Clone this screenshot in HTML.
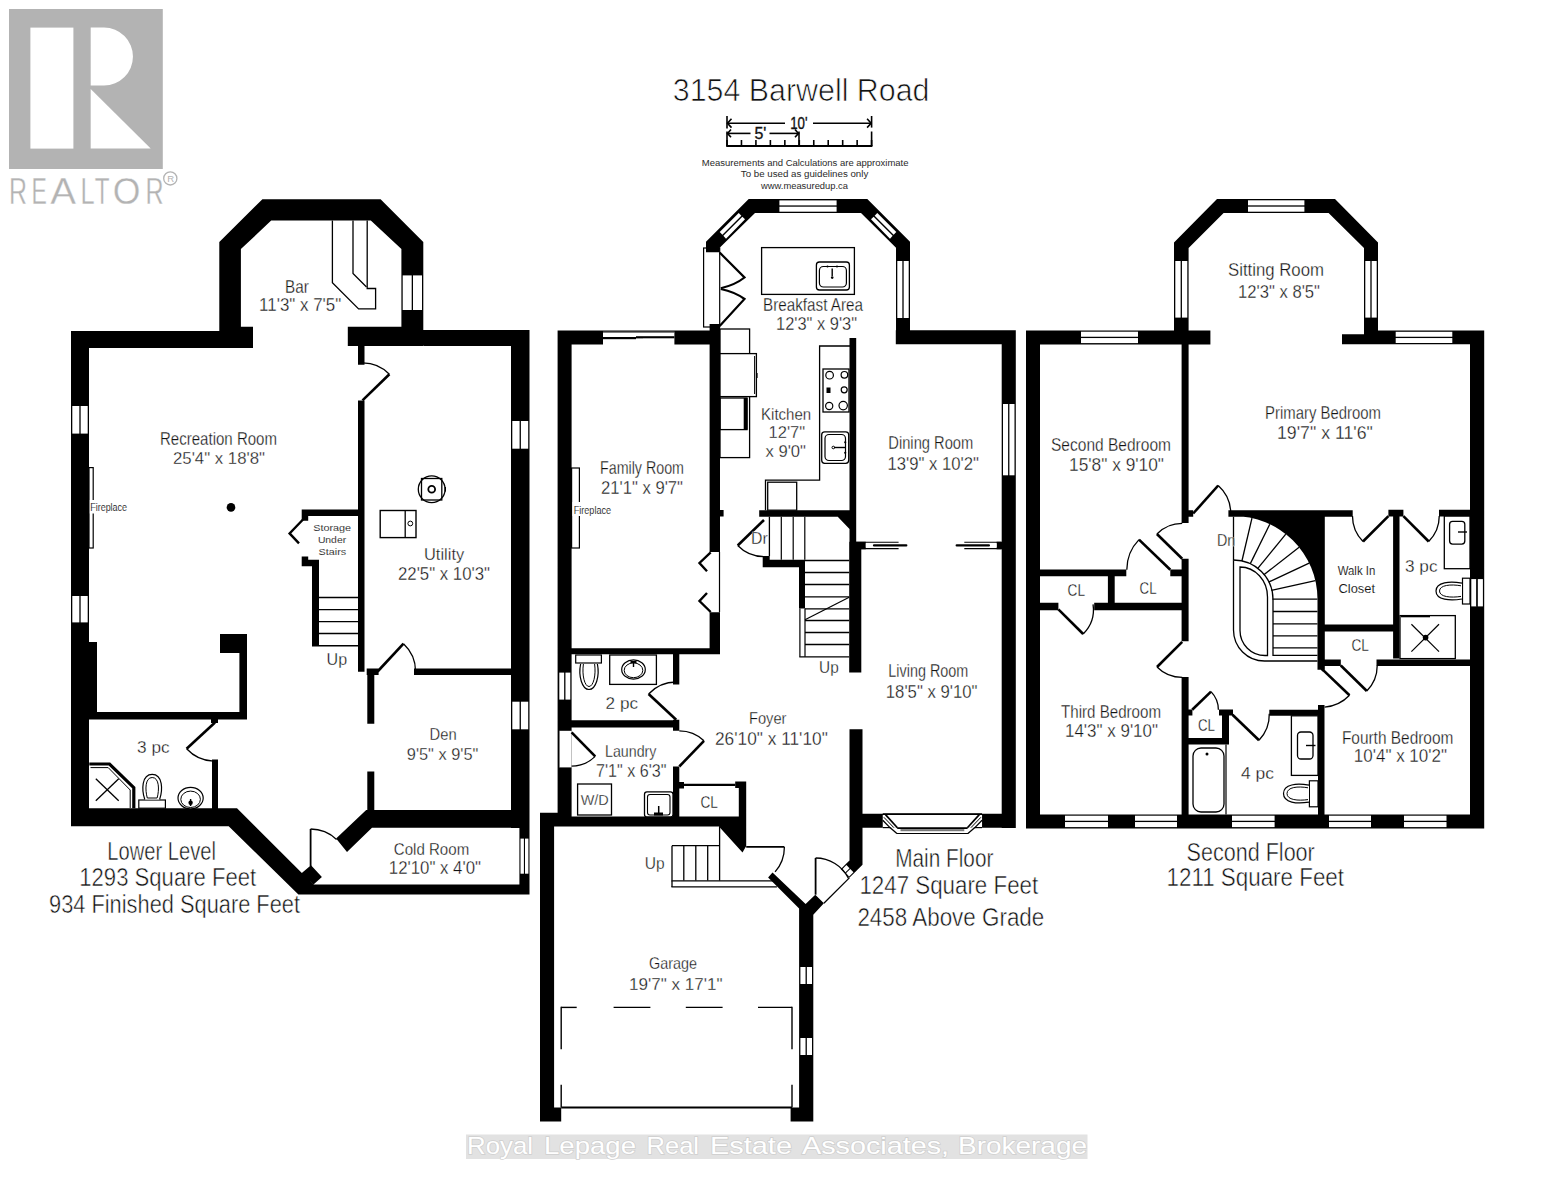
<!DOCTYPE html>
<html><head><meta charset="utf-8"><title>3154 Barwell Road</title>
<style>html,body{margin:0;padding:0;background:#fff;overflow:hidden;width:1553px;height:1200px;}svg{display:block;}</style>
</head><body>
<svg width="1553" height="1200" viewBox="0 0 1553 1200" font-family="Liberation Sans, sans-serif">
<rect width="1553" height="1200" fill="#fff"/>
<rect x="9" y="9" width="153.8" height="160" fill="#b3b3b3"/>
<rect x="30.4" y="27.6" width="43" height="121" fill="#fff"/>
<path d="M90.7,27.6 H104 A28.95,28.95 0 0 1 104,85.5 H90.7 Z" fill="#fff"/>
<polygon points="90.7,88.9 150.7,148.6 90.7,148.6" fill="#fff"/>
<text x="9" y="203.8" font-size="36.5" textLength="18" lengthAdjust="spacingAndGlyphs" fill="#b3b3b3" font-family="Liberation Sans" stroke="#fff" stroke-width="0.35">R</text>
<text x="31.6" y="203.8" font-size="36.5" textLength="15.4" lengthAdjust="spacingAndGlyphs" fill="#b3b3b3" font-family="Liberation Sans" stroke="#fff" stroke-width="0.35">E</text>
<text x="50.2" y="203.8" font-size="36.5" textLength="25.8" lengthAdjust="spacingAndGlyphs" fill="#b3b3b3" font-family="Liberation Sans" stroke="#fff" stroke-width="0.35">A</text>
<text x="80.5" y="203.8" font-size="36.5" textLength="14.1" lengthAdjust="spacingAndGlyphs" fill="#b3b3b3" font-family="Liberation Sans" stroke="#fff" stroke-width="0.35">L</text>
<text x="94.7" y="203.8" font-size="36.5" textLength="14.8" lengthAdjust="spacingAndGlyphs" fill="#b3b3b3" font-family="Liberation Sans" stroke="#fff" stroke-width="0.35">T</text>
<text x="112.7" y="203.8" font-size="36.5" textLength="27.7" lengthAdjust="spacingAndGlyphs" fill="#b3b3b3" font-family="Liberation Sans" stroke="#fff" stroke-width="0.35">O</text>
<text x="145.5" y="203.8" font-size="36.5" textLength="18.1" lengthAdjust="spacingAndGlyphs" fill="#b3b3b3" font-family="Liberation Sans" stroke="#fff" stroke-width="0.35">R</text>
<circle cx="170.3" cy="178.4" r="6.6" fill="none" stroke="#b3b3b3" stroke-width="1.3"/>
<text x="167.2" y="181.9" font-size="9.6" fill="#b3b3b3" font-family="Liberation Sans">R</text>
<text x="672.8" y="101.1" font-size="30.6" textLength="256.7" lengthAdjust="spacingAndGlyphs" fill="#111" font-family="Liberation Sans" stroke="#fff" stroke-width="0.7">3154 Barwell Road</text>
<line x1="727" y1="116" x2="727" y2="128.5" stroke="#000" stroke-width="1.6" stroke-linecap="butt"/>
<line x1="727" y1="131.5" x2="727" y2="146" stroke="#000" stroke-width="1.6" stroke-linecap="butt"/>
<line x1="871.6" y1="116" x2="871.6" y2="127.6" stroke="#000" stroke-width="1.6" stroke-linecap="butt"/>
<line x1="871.6" y1="131.5" x2="871.6" y2="146" stroke="#000" stroke-width="1.6" stroke-linecap="butt"/>
<line x1="799" y1="131.5" x2="799" y2="146" stroke="#000" stroke-width="1.6" stroke-linecap="butt"/>
<line x1="726.2" y1="146" x2="872.4" y2="146" stroke="#000" stroke-width="2" stroke-linecap="butt"/>
<line x1="727" y1="140" x2="727" y2="146" stroke="#000" stroke-width="1.6" stroke-linecap="butt"/>
<line x1="741.46" y1="140" x2="741.46" y2="146" stroke="#000" stroke-width="1.6" stroke-linecap="butt"/>
<line x1="755.92" y1="140" x2="755.92" y2="146" stroke="#000" stroke-width="1.6" stroke-linecap="butt"/>
<line x1="770.38" y1="140" x2="770.38" y2="146" stroke="#000" stroke-width="1.6" stroke-linecap="butt"/>
<line x1="784.84" y1="140" x2="784.84" y2="146" stroke="#000" stroke-width="1.6" stroke-linecap="butt"/>
<line x1="799.3" y1="140" x2="799.3" y2="146" stroke="#000" stroke-width="1.6" stroke-linecap="butt"/>
<line x1="813.76" y1="140" x2="813.76" y2="146" stroke="#000" stroke-width="1.6" stroke-linecap="butt"/>
<line x1="828.22" y1="140" x2="828.22" y2="146" stroke="#000" stroke-width="1.6" stroke-linecap="butt"/>
<line x1="842.68" y1="140" x2="842.68" y2="146" stroke="#000" stroke-width="1.6" stroke-linecap="butt"/>
<line x1="857.14" y1="140" x2="857.14" y2="146" stroke="#000" stroke-width="1.6" stroke-linecap="butt"/>
<line x1="871.6" y1="140" x2="871.6" y2="146" stroke="#000" stroke-width="1.6" stroke-linecap="butt"/>
<line x1="727" y1="123.2" x2="785" y2="123.2" stroke="#000" stroke-width="1.6" stroke-linecap="butt"/>
<line x1="813" y1="123.2" x2="871.6" y2="123.2" stroke="#000" stroke-width="1.6" stroke-linecap="butt"/>
<polyline points="731.5,118.8 727.5,123.2 731.5,127.6" fill="none" stroke="#000" stroke-width="1.6" stroke-linejoin="miter"/>
<polyline points="867.1,118.8 871.1,123.2 867.1,127.6" fill="none" stroke="#000" stroke-width="1.6" stroke-linejoin="miter"/>
<line x1="727" y1="133.4" x2="750.5" y2="133.4" stroke="#000" stroke-width="1.6" stroke-linecap="butt"/>
<line x1="769.5" y1="133.4" x2="799" y2="133.4" stroke="#000" stroke-width="1.6" stroke-linecap="butt"/>
<polyline points="731,129.5 727.5,133.4 731,137.3" fill="none" stroke="#000" stroke-width="1.6" stroke-linejoin="miter"/>
<polyline points="795,129.5 798.5,133.4 795,137.3" fill="none" stroke="#000" stroke-width="1.6" stroke-linejoin="miter"/>
<text x="790.2" y="129.3" font-size="16.5" textLength="17.3" lengthAdjust="spacingAndGlyphs" fill="#111" font-family="Liberation Sans" stroke="#111" stroke-width="0.35">10'</text>
<text x="754.4" y="139" font-size="16.5" textLength="11.9" lengthAdjust="spacingAndGlyphs" fill="#111" font-family="Liberation Sans" stroke="#111" stroke-width="0.35">5'</text>
<text x="701.8" y="165.6" font-size="9.6" textLength="206.7" lengthAdjust="spacingAndGlyphs" fill="#2a2a2a" font-family="Liberation Sans">Measurements and Calculations are approximate</text>
<text x="740.8" y="177.2" font-size="9.6" textLength="127.5" lengthAdjust="spacingAndGlyphs" fill="#2a2a2a" font-family="Liberation Sans">To be used as guidelines only</text>
<text x="761" y="189.2" font-size="9.6" textLength="87" lengthAdjust="spacingAndGlyphs" fill="#2a2a2a" font-family="Liberation Sans">www.measuredup.ca</text>
<path d="M219.3,331L219.3,241.9L262.4,199.2L380.6,199.2L423.3,241.9L423.3,331L401.4,331L401.4,249.1L370.8,220.6L271.2,220.6L240.9,249.1L240.9,331ZM71,331H253V348H71ZM220,326.8H253V331H220ZM347.8,326.8H423.3V345.9H347.8ZM423.3,330.1H529.5V345.9H423.3ZM71,331H89V826.2H71ZM89,642H97V712H89ZM511,330.1H529.5V828H511ZM519.4,828H529.5V894.6H519.4ZM358,345H364.5V364.7H358ZM358,400.4H364.5V671.8H358ZM301.7,509.4H358V516H301.7ZM301.7,509.4H308.2V520.7H301.7ZM301.7,556.4H308.2V566.2H301.7ZM301.7,559.7H318.6V566.2H301.7ZM312,559.7H319V645.8H312ZM366.7,668.6H378.6V675.1H366.7ZM414,668.6H511V675.1H414ZM367.3,668.6H374.3V723.8H367.3ZM367.3,771.5H374.3V812H367.3ZM366.2,810.1H529.5V827.7H366.2ZM366.2,810.1L372,810.1L372,827.7L347,852L336.1,838.6ZM71,808.2L237,808.2L313.4,884.6L529.5,884.6L529.5,894.6L298.4,894.6L228.7,826.2L71,826.2ZM301.8,872.9L311,865.3L321.9,877.1L313.5,884.6ZM89,712H247V719.4H89ZM239.4,634H247V719.4H239.4ZM220,634H247V653H220ZM211,719.4H218V723H211ZM212,759.4H218V808.2H212ZM706,252.3L706,241.7L748.7,199.1L867.3,199.1L910,241.7L910,344.2L896,344.2L896,247.7L861,213L755,213L719.7,247.7L719.7,252.3ZM895.8,330.3H1015.8V344.2H895.8ZM1001.7,330.3H1015.8V828H1001.7ZM557.6,330.4H720V344.4H557.6ZM557.6,330.4H571.6V826H557.6ZM709.6,324H720V552H709.6ZM709.6,612.3H720V654.3H709.6ZM571.5,648.3H720V654.3H571.5ZM720,510H723.6V516.5H720ZM706,244H719.7V252.3H706ZM710,324H720V330H710ZM849.5,338H856.2V541.7H849.5ZM849.2,541.7H861.3V672.5H849.2ZM759.2,510.2H849.5V516.7H759.2ZM837.5,516.5L849.5,516.5L849.5,529ZM762.7,556H769.7V567.2H762.7ZM762.7,559.7H805V567.2H762.7ZM799,559.7H805V608.5H799ZM856,541.7H865.8V549.2H856ZM996.6,541.7H1001.7V549.2H996.6ZM673,654H679.3V684.4H673ZM673,719.8H679.3V730.8H673ZM571.5,720.3H679.3V727.6H571.5ZM673,766.5H679.3V817H673ZM679.3,782H684V788.5H679.3ZM735.2,781.6H746.2V788H735.2ZM738.8,781.6H746.2V846H738.8ZM540,816.4H746.2V826.5H540ZM540,812.7H558V826.5H540ZM718.7,826.3L746.2,826.3L746.2,846L742.5,852.5ZM540,812.7H554.1V1121.5H540ZM540,1107.4H561.2V1121.5H540ZM799.1,905H813.3V1121.5H799.1ZM790.6,1107.4H813.3V1121.5H790.6ZM849.5,729.3H862.5V858H849.5ZM849.5,813.7H1015.8V827.8H849.5ZM849.5,855L862.5,855L862.5,864.7L854.23,872.97L845.6,864.35L849.5,860.45ZM854.23,872.97L849.35,877.85L840.72,869.23L845.6,864.35ZM768.1,877.5L772.5,872.5L805.6,903.9L815.27,894.68L823.89,903.31L813.3,914.7L813.3,1121.5L799.1,1121.5L799.1,908.6ZM1174,331L1174,242.4L1217,199L1335,199L1378,242.4L1378,344.3L1364,344.3L1364,248L1328.6,213L1223.6,213L1188.6,248L1188.6,331ZM1026,330.4H1210.4V344.4H1026ZM1342,334.3H1378V344.3H1342ZM1378,330.5H1484.2V344.3H1378ZM1026,330.4H1040V828.4H1026ZM1470,330.5H1484.2V828.4H1470ZM1026,814.4H1484.2V828.4H1026ZM1181.6,344.4H1188.6V523.1H1181.6ZM1188.6,510.3H1193.2V516.7H1188.6ZM1228.4,510.3H1352.7V516.7H1228.4ZM1233.2,516 H1318 V599.2 H1317.5 A84.3,83.2 0 0 0 1233.2,516 ZM1317.5,510.3H1324.8V669.8H1317.5ZM1388.4,509.8H1403.4V516.4H1388.4ZM1439,509.8H1470V516.4H1439ZM1393.1,509.8H1399.5V658.6H1393.1ZM1324.8,624.6H1393.1V631.4H1324.8ZM1317.5,659.5H1340.8V666H1317.5ZM1376.5,659.5H1470V666H1376.5ZM1318,705H1324.5V814.4H1318ZM1317.5,666L1324.8,666L1324.8,669.5L1322.5,671.5ZM1181.6,558.8H1188.6V641.3H1181.6ZM1040,569.5H1126.3V576.3H1040ZM1170.3,569.5H1182.2V576.3H1170.3ZM1107.9,576.3H1114.7V602.8H1107.9ZM1040,602.8H1058.4V610.2H1040ZM1094.2,602.8H1182.2V610.2H1094.2ZM1181.6,677H1188.6V814.4H1181.6ZM1188.6,709.6H1192.4V715.6H1188.6ZM1219,709.6H1233V715.6H1219ZM1222,709.6H1229V744.4H1222ZM1188.6,738H1229V744.4H1188.6ZM1269.3,709.7H1324.5V715.8H1269.3Z" fill="#000"/>
<rect x="402.7" y="275.4" width="9" height="34.6" fill="#fff"/>
<rect x="413" y="275.4" width="9" height="34.6" fill="#fff"/>
<polyline points="332.4,220.6 332.4,282.7 358.6,308.9 375.6,308.9 375.6,288.5 367.2,288.5 367.2,220.6" fill="none" stroke="#000" stroke-width="1.3" stroke-linejoin="miter"/>
<polyline points="353,220.6 353,273.4 366.5,287" fill="none" stroke="#000" stroke-width="1.3" stroke-linejoin="miter"/>
<rect x="72.3" y="406" width="7.05" height="27.6" fill="#fff"/>
<rect x="80.65" y="406" width="7.05" height="27.6" fill="#fff"/>
<rect x="72.3" y="596" width="7.05" height="26.4" fill="#fff"/>
<rect x="80.65" y="596" width="7.05" height="26.4" fill="#fff"/>
<rect x="512.3" y="421" width="7.3" height="27.7" fill="#fff"/>
<rect x="520.9" y="421" width="7.3" height="27.7" fill="#fff"/>
<rect x="512.3" y="701.7" width="7.3" height="27.6" fill="#fff"/>
<rect x="520.9" y="701.7" width="7.3" height="27.6" fill="#fff"/>
<rect x="520.5" y="838.6" width="3.4" height="35.1" fill="#fff"/>
<rect x="525" y="838.6" width="3.4" height="35.1" fill="#fff"/>
<line x1="362.5" y1="400.4" x2="389.4" y2="374.2" stroke="#000" stroke-width="2.6" stroke-linecap="butt"/>
<path d="M389.4,374.2 A37.55,37.55 0 0 0 361.13,362.87" fill="none" stroke="#000" stroke-width="1.3"/>
<polyline points="303,519.5 289.6,533.4 299,543.4" fill="none" stroke="#000" stroke-width="2.4" stroke-linejoin="miter"/>
<line x1="319" y1="597.5" x2="358" y2="597.5" stroke="#000" stroke-width="1.3" stroke-linecap="butt"/>
<line x1="319" y1="609.7" x2="358" y2="609.7" stroke="#000" stroke-width="1.3" stroke-linecap="butt"/>
<line x1="319" y1="621.6" x2="358" y2="621.6" stroke="#000" stroke-width="1.3" stroke-linecap="butt"/>
<line x1="319" y1="633.5" x2="358" y2="633.5" stroke="#000" stroke-width="1.3" stroke-linecap="butt"/>
<line x1="312" y1="645.8" x2="358" y2="645.8" stroke="#000" stroke-width="1.4" stroke-linecap="butt"/>
<line x1="377.6" y1="671.5" x2="403.5" y2="643.7" stroke="#000" stroke-width="2.6" stroke-linecap="butt"/>
<path d="M403.5,643.7 A38,38 0 0 1 415.6,671.5" fill="none" stroke="#000" stroke-width="1.3"/>
<line x1="310.6" y1="866.5" x2="310.6" y2="829" stroke="#000" stroke-width="1.8" stroke-linecap="butt"/>
<path d="M310.6,829 A37.5,37.5 0 0 1 336.56,839.44" fill="none" stroke="#000" stroke-width="1.3"/>
<line x1="215" y1="722.5" x2="186.6" y2="748.8" stroke="#000" stroke-width="2.6" stroke-linecap="butt"/>
<path d="M186.6,748.8 A38.71,38.71 0 0 0 213.43,761.18" fill="none" stroke="#000" stroke-width="1.3"/>
<polyline points="89.3,764 109.5,764 133.8,787.6 133.8,808.2" fill="none" stroke="#000" stroke-width="3.2" stroke-linejoin="miter"/>
<polyline points="90.5,767.6 108.2,767.6 130.2,790 130.2,808" fill="none" stroke="#000" stroke-width="1" stroke-linejoin="miter"/>
<line x1="95.8" y1="778.8" x2="118.7" y2="800.8" stroke="#000" stroke-width="1.3" stroke-linecap="butt"/>
<line x1="118.7" y1="778.8" x2="95.8" y2="800.8" stroke="#000" stroke-width="1.3" stroke-linecap="butt"/>
<rect x="138.8" y="800" width="26.6" height="8.2" fill="#fff" stroke="#000" stroke-width="1.2"/>
<path d="M144.8,799.5 C141.5,790 141.5,774.3 152.2,774.3 C162.9,774.3 162.9,790 159.6,799.5" fill="#fff" stroke="#000" stroke-width="1.2"/>
<path d="M147.3,798 C145,790 145,777.5 152.2,777.5 C159.4,777.5 159.4,790 157.1,798 Z" fill="none" stroke="#000" stroke-width="1"/>
<ellipse cx="190.6" cy="798.1" rx="12.6" ry="10.8" fill="#fff" stroke="#000" stroke-width="1.2"/>
<ellipse cx="190.6" cy="799.3" rx="9.8" ry="8.2" fill="none" stroke="#000" stroke-width="1.0"/>
<circle cx="190.6" cy="802.8" r="2.2" fill="#000"/>
<line x1="190.6" y1="799" x2="190.6" y2="806" stroke="#000" stroke-width="1.4" stroke-linecap="butt"/>
<circle cx="231" cy="507.4" r="4.3" fill="#000"/>
<rect x="89" y="467.6" width="4.2" height="80.4" fill="#fff" stroke="#000" stroke-width="1.2"/>
<rect x="89.8" y="500" width="38.2" height="13.5" fill="#fff"/>
<circle cx="431.7" cy="489.3" r="13.4" fill="none" stroke="#000" stroke-width="1.3"/>
<rect x="421.5" y="478.5" width="20.3" height="21.5" fill="none" stroke="#000" stroke-width="1.3"/>
<circle cx="431.7" cy="489.3" r="3.4" fill="none" stroke="#000" stroke-width="1.8"/>
<rect x="444.6" y="487" width="1.4" height="4.6" fill="#000"/>
<rect x="380.2" y="510.5" width="35.8" height="27.1" fill="#fff" stroke="#000" stroke-width="1.4"/>
<line x1="405.2" y1="510.5" x2="405.2" y2="537.6" stroke="#000" stroke-width="1.3" stroke-linecap="butt"/>
<circle cx="410.3" cy="523.5" r="2.4" fill="none" stroke="#000" stroke-width="1"/>
<rect x="779.4" y="200.4" width="57.2" height="5" fill="#fff"/>
<rect x="779.4" y="206.7" width="57.2" height="5" fill="#fff"/>
<polygon points="719.7,232.04 738.7,213 741.35,215.65 722.35,234.83" fill="#fff"/>
<polygon points="723.35,235.87 742.35,216.65 745,219.3 726,238.66" fill="#fff"/>
<polygon points="896.3,232.04 877.3,213 874.65,215.65 893.65,234.83" fill="#fff"/>
<polygon points="892.65,235.87 873.65,216.65 871,219.3 890,238.66" fill="#fff"/>
<rect x="897.3" y="261" width="5.05" height="57" fill="#fff"/>
<rect x="903.65" y="261" width="5.05" height="57" fill="#fff"/>
<rect x="1003" y="404" width="5.1" height="71.3" fill="#fff"/>
<rect x="1009.4" y="404" width="5.1" height="71.3" fill="#fff"/>
<rect x="603" y="331.6" width="71.4" height="13.4" fill="#fff"/>
<line x1="603" y1="332" x2="674.4" y2="332" stroke="#000" stroke-width="1" stroke-linecap="butt"/>
<rect x="603" y="337" width="33" height="2.2" fill="#000"/>
<rect x="636" y="336.2" width="7" height="2.2" fill="#000"/>
<rect x="643" y="336.2" width="31.4" height="2.1" fill="#000"/>
<rect x="559.3" y="672.6" width="4.85" height="27" fill="#fff"/>
<rect x="565.45" y="672.6" width="4.85" height="27" fill="#fff"/>
<rect x="559.2" y="730.8" width="12.4" height="36.6" fill="#fff"/>
<line x1="558.8" y1="730.8" x2="558.8" y2="767.4" stroke="#000" stroke-width="1.2" stroke-linecap="butt"/>
<line x1="571.6" y1="732.4" x2="595.2" y2="756.4" stroke="#000" stroke-width="2.6" stroke-linecap="butt"/>
<path d="M595.2,756.4 A33.66,33.66 0 0 1 571.6,766.06" fill="none" stroke="#000" stroke-width="1.3"/>
<line x1="719.5" y1="552" x2="719.5" y2="612.3" stroke="#000" stroke-width="1.2" stroke-linecap="butt"/>
<polyline points="710.7,552.4 699.5,563 707,571.3" fill="none" stroke="#000" stroke-width="2.4" stroke-linejoin="miter"/>
<polyline points="707,593 699.5,601 710.7,612" fill="none" stroke="#000" stroke-width="2.4" stroke-linejoin="miter"/>
<rect x="571.6" y="468" width="7.8" height="80" fill="#fff" stroke="#000" stroke-width="1.2"/>
<rect x="572.5" y="502" width="39.5" height="14" fill="#fff"/>
<rect x="703.6" y="248" width="16.1" height="79" fill="none" stroke="#000" stroke-width="1.2"/>
<path d="M719.7,252.6 L744.5,277.5 Q735,285 720.8,288.2" fill="none" stroke="#000" stroke-width="2.2"/>
<path d="M720.8,289 Q735,292 744.5,299 L719.7,326" fill="none" stroke="#000" stroke-width="2.2"/>
<rect x="761.6" y="247.6" width="92.8" height="46.8" fill="#fff" stroke="#000" stroke-width="1.3"/>
<rect x="816.4" y="262" width="33" height="28" rx="3" fill="#fff" stroke="#000" stroke-width="1.3"/>
<rect x="819.4" y="266.5" width="27" height="20.5" rx="4" fill="#fff" stroke="#000" stroke-width="1.2"/>
<line x1="832.2" y1="268.5" x2="832.2" y2="276" stroke="#000" stroke-width="1.4" stroke-linecap="butt"/>
<circle cx="832.2" cy="277.6" r="1.3" fill="#000"/>
<circle cx="827.5" cy="266.6" r="1" fill="#000"/><circle cx="837" cy="266.6" r="1" fill="#000"/>
<rect x="720" y="329" width="29.6" height="128.6" fill="#fff" stroke="#000" stroke-width="1.3"/>
<rect x="720" y="353.6" width="36.4" height="43" fill="#fff" stroke="#000" stroke-width="1.3"/>
<line x1="754.6" y1="356" x2="754.6" y2="394" stroke="#000" stroke-width="1" stroke-linecap="butt"/>
<rect x="756.4" y="373" width="1.2" height="5" fill="#000"/>
<rect x="720" y="398" width="27" height="31.6" fill="none" stroke="#000" stroke-width="1.3"/>
<rect x="743.7" y="398" width="3.8" height="31.6" fill="#000"/>
<polyline points="850,346 819.6,346 819.6,480.2 765.5,480.2 765.5,510.2" fill="none" stroke="#000" stroke-width="1.3" stroke-linejoin="miter"/>
<rect x="767.7" y="482.2" width="29" height="28" fill="#fff" stroke="#000" stroke-width="1.3"/>
<rect x="823" y="369" width="26" height="43" fill="#fff" stroke="#000" stroke-width="1.3"/>
<circle cx="829.6" cy="375.2" r="3.8" fill="none" stroke="#000" stroke-width="1.2"/>
<circle cx="844.4" cy="374.8" r="3.3" fill="none" stroke="#000" stroke-width="1.2"/>
<circle cx="844.2" cy="389.8" r="3" fill="none" stroke="#000" stroke-width="1.2"/>
<circle cx="829.2" cy="406" r="3.6" fill="none" stroke="#000" stroke-width="1.2"/>
<circle cx="843.2" cy="405.6" r="4.2" fill="none" stroke="#000" stroke-width="1.2"/>
<rect x="826.5" y="387.5" width="4" height="5.5" fill="#000"/>
<rect x="821.7" y="431.8" width="27" height="31.5" rx="3" fill="#fff" stroke="#000" stroke-width="1.3"/>
<rect x="825" y="434.5" width="20.5" height="26" rx="4" fill="#fff" stroke="#000" stroke-width="1.2"/>
<line x1="834" y1="447.5" x2="846" y2="447.5" stroke="#000" stroke-width="1.4" stroke-linecap="butt"/>
<circle cx="833.3" cy="447.5" r="1.3" fill="none" stroke="#000" stroke-width="1"/>
<circle cx="845.2" cy="442.3" r="1.1" fill="#000"/><circle cx="845.2" cy="452.8" r="1.1" fill="#000"/>
<line x1="769.4" y1="516.7" x2="769.4" y2="556" stroke="#000" stroke-width="1.3" stroke-linecap="butt"/>
<line x1="799.9" y1="608.5" x2="799.9" y2="656.8" stroke="#000" stroke-width="1.2" stroke-linecap="butt"/>
<line x1="805" y1="608.5" x2="805" y2="656.8" stroke="#000" stroke-width="1.2" stroke-linecap="butt"/>
<line x1="781.3" y1="516.7" x2="781.3" y2="559.8" stroke="#000" stroke-width="1.2" stroke-linecap="butt"/>
<line x1="793.2" y1="516.7" x2="793.2" y2="559.8" stroke="#000" stroke-width="1.2" stroke-linecap="butt"/>
<line x1="804.8" y1="516.7" x2="804.8" y2="559.8" stroke="#000" stroke-width="1.2" stroke-linecap="butt"/>
<line x1="805" y1="560.5" x2="849.2" y2="560.5" stroke="#000" stroke-width="1.3" stroke-linecap="butt"/>
<line x1="805" y1="572.5" x2="849.2" y2="572.5" stroke="#000" stroke-width="1.3" stroke-linecap="butt"/>
<line x1="805" y1="584.5" x2="849.2" y2="584.5" stroke="#000" stroke-width="1.3" stroke-linecap="butt"/>
<line x1="805" y1="596.8" x2="849.2" y2="596.8" stroke="#000" stroke-width="1.3" stroke-linecap="butt"/>
<line x1="805" y1="608.8" x2="849.2" y2="608.8" stroke="#000" stroke-width="1.3" stroke-linecap="butt"/>
<line x1="805" y1="620.5" x2="849.2" y2="620.5" stroke="#000" stroke-width="1.3" stroke-linecap="butt"/>
<line x1="805" y1="632.5" x2="849.2" y2="632.5" stroke="#000" stroke-width="1.3" stroke-linecap="butt"/>
<line x1="805" y1="644.5" x2="849.2" y2="644.5" stroke="#000" stroke-width="1.3" stroke-linecap="butt"/>
<line x1="799.3" y1="656.8" x2="849.2" y2="656.8" stroke="#000" stroke-width="1.3" stroke-linecap="butt"/>
<line x1="805" y1="619.7" x2="849.2" y2="597.2" stroke="#000" stroke-width="1.2" stroke-linecap="butt"/>
<line x1="764" y1="520" x2="737.7" y2="545.5" stroke="#000" stroke-width="2.6" stroke-linecap="butt"/>
<path d="M737.7,545.5 A36.63,36.63 0 0 0 764,556.63" fill="none" stroke="#000" stroke-width="1.3"/>
<line x1="856" y1="542.2" x2="898.6" y2="542.2" stroke="#000" stroke-width="1.1" stroke-linecap="butt"/>
<line x1="856" y1="548.6" x2="898.6" y2="548.6" stroke="#000" stroke-width="1.1" stroke-linecap="butt"/>
<rect x="865.8" y="543.3" width="6.6" height="4.1" fill="#fff"/>
<rect x="872.9" y="544.2" width="34.5" height="2.3" rx="1.1" fill="#000"/>
<line x1="964.3" y1="542.2" x2="1001.5" y2="542.2" stroke="#000" stroke-width="1.1" stroke-linecap="butt"/>
<line x1="964.3" y1="548.6" x2="1001.5" y2="548.6" stroke="#000" stroke-width="1.1" stroke-linecap="butt"/>
<rect x="990.6" y="543.3" width="6" height="4.1" fill="#fff"/>
<rect x="955.6" y="544.2" width="34.4" height="2.3" rx="1.1" fill="#000"/>
<line x1="676.2" y1="719.8" x2="648.6" y2="694" stroke="#000" stroke-width="2.6" stroke-linecap="butt"/>
<path d="M648.6,694 A37.78,37.78 0 0 1 676.2,682.02" fill="none" stroke="#000" stroke-width="1.3"/>
<rect x="575.7" y="655" width="25.7" height="8" fill="#fff" stroke="#000" stroke-width="1.2"/>
<path d="M580.6,664 C578.2,676 582,689.5 589,689.5 C596,689.5 599.8,676 597.4,664" fill="#fff" stroke="#000" stroke-width="1.2"/>
<path d="M583.4,664 C581.8,675 584.6,686.5 589,686.5 C593.4,686.5 596.2,675 594.6,664" fill="none" stroke="#000" stroke-width="1"/>
<rect x="609.7" y="655" width="46.7" height="29.4" fill="#fff" stroke="#000" stroke-width="1.3"/>
<ellipse cx="633.5" cy="669.5" rx="11.8" ry="9.6" fill="#fff" stroke="#000" stroke-width="1.2"/>
<ellipse cx="633.5" cy="670.3" rx="9.3" ry="7.4" fill="none" stroke="#000" stroke-width="1"/>
<rect x="630.5" y="661" width="6" height="2" fill="#000"/>
<line x1="633.5" y1="662" x2="633.5" y2="667" stroke="#000" stroke-width="1.4" stroke-linecap="butt"/>
<line x1="679.3" y1="766.5" x2="704" y2="740.8" stroke="#000" stroke-width="2.6" stroke-linecap="butt"/>
<path d="M704,740.8 A35.65,35.65 0 0 0 679.3,730.85" fill="none" stroke="#000" stroke-width="1.3"/>
<rect x="577.6" y="784" width="33.9" height="31" fill="#fff" stroke="#000" stroke-width="1.3"/>
<rect x="644.5" y="791.8" width="28.5" height="25.2" rx="2.5" fill="#fff" stroke="#000" stroke-width="1.3"/>
<rect x="647.5" y="794.5" width="22.5" height="20.5" rx="2.5" fill="none" stroke="#000" stroke-width="1.1"/>
<line x1="658.7" y1="806" x2="658.7" y2="814" stroke="#000" stroke-width="1.5" stroke-linecap="butt"/>
<rect x="654" y="812.5" width="9" height="3" fill="#000"/>
<line x1="684" y1="784.8" x2="735.2" y2="784.8" stroke="#000" stroke-width="2.2" stroke-linecap="butt"/>
<rect x="800.4" y="967" width="5.15" height="17" fill="#fff"/>
<rect x="806.85" y="967" width="5.15" height="17" fill="#fff"/>
<rect x="800.4" y="1038" width="5.15" height="17" fill="#fff"/>
<rect x="806.85" y="1038" width="5.15" height="17" fill="#fff"/>
<line x1="561.2" y1="1007.4" x2="576.7" y2="1007.4" stroke="#000" stroke-width="1.4" stroke-linecap="butt"/>
<line x1="613.6" y1="1007.4" x2="650.4" y2="1007.4" stroke="#000" stroke-width="1.4" stroke-linecap="butt"/>
<line x1="685.8" y1="1007.4" x2="722.6" y2="1007.4" stroke="#000" stroke-width="1.4" stroke-linecap="butt"/>
<line x1="758" y1="1007.4" x2="792" y2="1007.4" stroke="#000" stroke-width="1.4" stroke-linecap="butt"/>
<line x1="561.2" y1="1006.7" x2="561.2" y2="1049.3" stroke="#000" stroke-width="1.4" stroke-linecap="butt"/>
<line x1="792" y1="1006.7" x2="792" y2="1049.3" stroke="#000" stroke-width="1.4" stroke-linecap="butt"/>
<line x1="561.2" y1="1084.7" x2="561.2" y2="1107.4" stroke="#000" stroke-width="1.4" stroke-linecap="butt"/>
<line x1="792" y1="1084.7" x2="792" y2="1107.4" stroke="#000" stroke-width="1.4" stroke-linecap="butt"/>
<line x1="561.2" y1="1107.4" x2="792" y2="1107.4" stroke="#000" stroke-width="2" stroke-linecap="butt"/>
<line x1="672" y1="845.7" x2="672" y2="880.6" stroke="#000" stroke-width="1.3" stroke-linecap="butt"/>
<line x1="683.8" y1="845.7" x2="683.8" y2="880.6" stroke="#000" stroke-width="1.3" stroke-linecap="butt"/>
<line x1="695.8" y1="845.7" x2="695.8" y2="880.6" stroke="#000" stroke-width="1.3" stroke-linecap="butt"/>
<line x1="707.7" y1="845.7" x2="707.7" y2="880.6" stroke="#000" stroke-width="1.3" stroke-linecap="butt"/>
<line x1="719.6" y1="826.5" x2="719.6" y2="880.6" stroke="#000" stroke-width="1.3" stroke-linecap="butt"/>
<line x1="672" y1="845.7" x2="719.6" y2="845.7" stroke="#000" stroke-width="1.3" stroke-linecap="butt"/>
<line x1="671.4" y1="880.9" x2="773" y2="880.9" stroke="#000" stroke-width="1.3" stroke-linecap="butt"/>
<line x1="671.4" y1="886.9" x2="776.9" y2="886.9" stroke="#000" stroke-width="1.3" stroke-linecap="butt"/>
<line x1="672" y1="880.6" x2="672" y2="887" stroke="#000" stroke-width="1.3" stroke-linecap="butt"/>
<line x1="746.2" y1="846.9" x2="784.4" y2="846.9" stroke="#000" stroke-width="1.8" stroke-linecap="butt"/>
<path d="M784.4,846.9 A38.2,38.2 0 0 1 775.08,871.9" fill="none" stroke="#000" stroke-width="1.3"/>
<rect x="882.75" y="814.9" width="99.3" height="13" fill="#fff"/>
<line x1="885.5" y1="814.6" x2="897.4" y2="827.7" stroke="#000" stroke-width="1.7" stroke-linecap="butt"/>
<line x1="882.75" y1="820.3" x2="890.2" y2="827.9" stroke="#000" stroke-width="1.3" stroke-linecap="butt"/>
<line x1="883.9" y1="817.3" x2="893.8" y2="827.6" stroke="#000" stroke-width="1" stroke-linecap="butt"/>
<line x1="889.9" y1="827.6" x2="896.9" y2="833.6" stroke="#000" stroke-width="1.3" stroke-linecap="butt"/>
<line x1="882.75" y1="827.6" x2="890.2" y2="827.6" stroke="#000" stroke-width="1.2" stroke-linecap="butt"/>
<line x1="979.3" y1="814.6" x2="967.4" y2="827.7" stroke="#000" stroke-width="1.7" stroke-linecap="butt"/>
<line x1="982.05" y1="820.3" x2="974.6" y2="827.9" stroke="#000" stroke-width="1.3" stroke-linecap="butt"/>
<line x1="980.9" y1="817.3" x2="971" y2="827.6" stroke="#000" stroke-width="1" stroke-linecap="butt"/>
<line x1="974.9" y1="827.6" x2="967.9" y2="833.6" stroke="#000" stroke-width="1.3" stroke-linecap="butt"/>
<line x1="982.05" y1="827.6" x2="974.6" y2="827.6" stroke="#000" stroke-width="1.2" stroke-linecap="butt"/>
<line x1="882.75" y1="814.1" x2="982.05" y2="814.1" stroke="#000" stroke-width="1.6" stroke-linecap="butt"/>
<line x1="897.2" y1="828.1" x2="967.6" y2="828.1" stroke="#000" stroke-width="1.7" stroke-linecap="butt"/>
<rect x="900.5" y="829.1" width="63.8" height="2.1" fill="#7a7a7a"/>
<line x1="896.6" y1="833.5" x2="968.2" y2="833.5" stroke="#000" stroke-width="1.2" stroke-linecap="butt"/>
<polygon points="853.45,872.2 849.14,876.51 845.95,873.33 850.27,869.01" fill="#fff"/>
<polygon points="849.56,868.31 845.25,872.62 842.06,869.44 846.38,865.12" fill="#fff"/>
<line x1="849.35" y1="877.85" x2="823.89" y2="903.31" stroke="#000" stroke-width="1.3" stroke-linecap="butt"/>
<line x1="815.6" y1="894.7" x2="815.6" y2="858" stroke="#000" stroke-width="1.8" stroke-linecap="butt"/>
<path d="M815.6,858 A36.7,36.7 0 0 1 848.44,878.31" fill="none" stroke="#000" stroke-width="1.3"/>
<rect x="1248" y="200.3" width="56.4" height="5.05" fill="#fff"/>
<rect x="1248" y="206.65" width="56.4" height="5.05" fill="#fff"/>
<rect x="1175.3" y="261" width="5.35" height="56.6" fill="#fff"/>
<rect x="1181.95" y="261" width="5.35" height="56.6" fill="#fff"/>
<rect x="1365.3" y="261" width="5.05" height="56.6" fill="#fff"/>
<rect x="1371.65" y="261" width="5.05" height="56.6" fill="#fff"/>
<rect x="1081" y="331.7" width="57" height="5.05" fill="#fff"/>
<rect x="1081" y="338.05" width="57" height="5.05" fill="#fff"/>
<rect x="1395.7" y="331.8" width="56.6" height="4.95" fill="#fff"/>
<rect x="1395.7" y="338.05" width="56.6" height="4.95" fill="#fff"/>
<rect x="1065" y="815.7" width="43" height="5.05" fill="#fff"/>
<rect x="1065" y="822.05" width="43" height="5.05" fill="#fff"/>
<rect x="1135" y="815.7" width="42" height="5.05" fill="#fff"/>
<rect x="1135" y="822.05" width="42" height="5.05" fill="#fff"/>
<rect x="1232" y="815.7" width="42.6" height="5.05" fill="#fff"/>
<rect x="1232" y="822.05" width="42.6" height="5.05" fill="#fff"/>
<rect x="1329" y="815.7" width="42" height="5.05" fill="#fff"/>
<rect x="1329" y="822.05" width="42" height="5.05" fill="#fff"/>
<rect x="1404" y="815.7" width="42.5" height="5.05" fill="#fff"/>
<rect x="1404" y="822.05" width="42.5" height="5.05" fill="#fff"/>
<line x1="1193.2" y1="513.5" x2="1218.2" y2="485.5" stroke="#000" stroke-width="2.6" stroke-linecap="butt"/>
<path d="M1218.2,485.5 A37.54,37.54 0 0 1 1230.74,513.5" fill="none" stroke="#000" stroke-width="1.3"/>
<line x1="1388.4" y1="516.1" x2="1363" y2="541.5" stroke="#000" stroke-width="2.6" stroke-linecap="butt"/>
<path d="M1363,541.5 A35.92,35.92 0 0 1 1352.48,516.1" fill="none" stroke="#000" stroke-width="1.3"/>
<line x1="1403.4" y1="516.1" x2="1428.7" y2="541.5" stroke="#000" stroke-width="2.6" stroke-linecap="butt"/>
<path d="M1428.7,541.5 A35.85,35.85 0 0 0 1439.25,516.1" fill="none" stroke="#000" stroke-width="1.3"/>
<line x1="1340.8" y1="665.5" x2="1366.8" y2="691" stroke="#000" stroke-width="2.6" stroke-linecap="butt"/>
<path d="M1366.8,691 A36.42,36.42 0 0 0 1377.22,665.5" fill="none" stroke="#000" stroke-width="1.3"/>
<line x1="1321.6" y1="668.6" x2="1349.5" y2="695.2" stroke="#000" stroke-width="2.6" stroke-linecap="butt"/>
<path d="M1349.5,695.2 A38.55,38.55 0 0 1 1324.62,707.03" fill="none" stroke="#000" stroke-width="1.3"/>
<rect x="1444.3" y="516.1" width="25.7" height="52.6" fill="#fff" stroke="#000" stroke-width="1.3"/>
<rect x="1449.6" y="521.3" width="15.2" height="22.8" rx="3" fill="#fff" stroke="#000" stroke-width="1.3"/>
<line x1="1458" y1="532" x2="1467" y2="532" stroke="#000" stroke-width="1.4" stroke-linecap="butt"/>
<rect x="1400" y="615.6" width="55.3" height="43" fill="#fff" stroke="#000" stroke-width="1.3"/>
<line x1="1401" y1="616.5" x2="1430" y2="616.5" stroke="#000" stroke-width="1.6" stroke-linecap="butt"/>
<line x1="1411.4" y1="624.3" x2="1439" y2="651.6" stroke="#000" stroke-width="1.2" stroke-linecap="butt"/>
<line x1="1439" y1="624.3" x2="1411.4" y2="651.6" stroke="#000" stroke-width="1.2" stroke-linecap="butt"/>
<circle cx="1425.6" cy="637.6" r="2.8" fill="#000"/>
<rect x="1462.5" y="578.2" width="7.5" height="25.8" fill="#fff" stroke="#000" stroke-width="1.2"/>
<rect x="1471.3" y="579.1" width="5.15" height="27.3" fill="#fff"/>
<rect x="1477.75" y="579.1" width="5.15" height="27.3" fill="#fff"/>
<line x1="1476.8" y1="579.1" x2="1476.8" y2="606.4" stroke="#000" stroke-width="1" stroke-linecap="butt"/>
<path d="M1462,583.2 C1450,581 1436,582 1436,591 C1436,600 1450,601 1462,599" fill="#fff" stroke="#000" stroke-width="1.2"/>
<path d="M1461,585.8 C1451,584 1439.5,585 1439.5,591 C1439.5,597 1451,598 1461,596.4" fill="none" stroke="#000" stroke-width="1"/>
<line x1="1182.2" y1="558.8" x2="1156.9" y2="534" stroke="#000" stroke-width="2.6" stroke-linecap="butt"/>
<path d="M1156.9,534 A35.43,35.43 0 0 1 1182.2,523.37" fill="none" stroke="#000" stroke-width="1.3"/>
<line x1="1170.3" y1="569.8" x2="1139" y2="539.6" stroke="#000" stroke-width="2.6" stroke-linecap="butt"/>
<path d="M1139,539.6 A43.49,43.49 0 0 0 1126.81,569.8" fill="none" stroke="#000" stroke-width="1.3"/>
<line x1="1058.4" y1="609.3" x2="1083.2" y2="634" stroke="#000" stroke-width="2.6" stroke-linecap="butt"/>
<path d="M1083.2,634 A35,35 0 0 0 1093.05,604.36" fill="none" stroke="#000" stroke-width="1.3"/>
<line x1="1182.2" y1="641.8" x2="1157" y2="667" stroke="#000" stroke-width="2.6" stroke-linecap="butt"/>
<path d="M1157,667 A35.64,35.64 0 0 0 1182.2,677.44" fill="none" stroke="#000" stroke-width="1.3"/>
<line x1="1192.2" y1="709.8" x2="1211" y2="691.6" stroke="#000" stroke-width="2.6" stroke-linecap="butt"/>
<path d="M1211,691.6 A26.17,26.17 0 0 1 1218.37,709.8" fill="none" stroke="#000" stroke-width="1.3"/>
<line x1="1232.5" y1="714.7" x2="1259" y2="740.2" stroke="#000" stroke-width="2.6" stroke-linecap="butt"/>
<path d="M1259,740.2 A36.78,36.78 0 0 0 1269.27,713.8" fill="none" stroke="#000" stroke-width="1.3"/>
<line x1="1226" y1="744.4" x2="1226" y2="814.4" stroke="#000" stroke-width="1.2" stroke-linecap="butt"/>
<rect x="1193" y="748" width="31" height="64" rx="8" fill="#fff" stroke="#000" stroke-width="1.3"/>
<circle cx="1207" cy="754" r="1.5" fill="#000"/>
<rect x="1291.4" y="715.8" width="26.6" height="59.6" fill="#fff" stroke="#000" stroke-width="1.3"/>
<rect x="1297.5" y="732" width="15.5" height="27" rx="3.5" fill="#fff" stroke="#000" stroke-width="1.3"/>
<line x1="1306" y1="745.5" x2="1315.5" y2="745.5" stroke="#000" stroke-width="1.4" stroke-linecap="butt"/>
<rect x="1309.4" y="780.8" width="8.6" height="26" fill="#fff" stroke="#000" stroke-width="1.2"/>
<path d="M1309,785.2 C1297,783 1283.5,784 1283.5,793.6 C1283.5,803 1297,804 1309,802.2" fill="#fff" stroke="#000" stroke-width="1.2"/>
<path d="M1308,787.8 C1298,786 1287,787 1287,793.6 C1287,800 1298,801 1308,799.6" fill="none" stroke="#000" stroke-width="1"/>
<line x1="1233.5" y1="516.7" x2="1233.5" y2="560.7" stroke="#000" stroke-width="1.3" stroke-linecap="butt"/>
<path d="M1233.5,560.5 V630 A31,31 0 0 0 1264.5,661 H1317.5" fill="none" stroke="#000" stroke-width="1.3"/>
<path d="M1233.5,560 A39.5,39.5 0 0 1 1273,599.5 V655.3 H1317.5" fill="none" stroke="#000" stroke-width="1.3"/>
<path d="M1240,567 A27.5,30 0 0 1 1267.5,597 V655.5 H1265 A25,25 0 0 1 1240,630.5 Z" fill="none" stroke="#000" stroke-width="1.3"/>
<line x1="1241.92" y1="560.98" x2="1251.96" y2="518.09" stroke="#000" stroke-width="1.3" stroke-linecap="butt"/>
<line x1="1250.21" y1="563.88" x2="1269.78" y2="524.24" stroke="#000" stroke-width="1.3" stroke-linecap="butt"/>
<line x1="1257.64" y1="568.55" x2="1285.76" y2="534.15" stroke="#000" stroke-width="1.3" stroke-linecap="butt"/>
<line x1="1263.85" y1="574.76" x2="1299.11" y2="547.33" stroke="#000" stroke-width="1.3" stroke-linecap="butt"/>
<line x1="1268.52" y1="582.19" x2="1309.15" y2="563.1" stroke="#000" stroke-width="1.3" stroke-linecap="butt"/>
<line x1="1271.42" y1="590.48" x2="1315.39" y2="580.69" stroke="#000" stroke-width="1.3" stroke-linecap="butt"/>
<line x1="1272.4" y1="599.2" x2="1317.5" y2="599.2" stroke="#000" stroke-width="1.3" stroke-linecap="butt"/>
<line x1="1273" y1="611.5" x2="1317.5" y2="611.5" stroke="#000" stroke-width="1.3" stroke-linecap="butt"/>
<line x1="1273" y1="623.8" x2="1317.5" y2="623.8" stroke="#000" stroke-width="1.3" stroke-linecap="butt"/>
<line x1="1273" y1="635.8" x2="1317.5" y2="635.8" stroke="#000" stroke-width="1.3" stroke-linecap="butt"/>
<line x1="1273" y1="647.8" x2="1317.5" y2="647.8" stroke="#000" stroke-width="1.3" stroke-linecap="butt"/>
<text x="285" y="292.6" font-size="18.11" textLength="23.8" lengthAdjust="spacingAndGlyphs" fill="#111" font-family="Liberation Sans" stroke="#fff" stroke-width="0.3">Bar</text>
<text x="259.1" y="311.3" font-size="17.57" textLength="82.1" lengthAdjust="spacingAndGlyphs" fill="#111" font-family="Liberation Sans" stroke="#fff" stroke-width="0.3">11'3&quot; x 7'5&quot;</text>
<text x="160" y="445" font-size="17.68" textLength="117" lengthAdjust="spacingAndGlyphs" fill="#111" font-family="Liberation Sans" stroke="#fff" stroke-width="0.3">Recreation Room</text>
<text x="173" y="464.2" font-size="17.04" textLength="92" lengthAdjust="spacingAndGlyphs" fill="#111" font-family="Liberation Sans" stroke="#fff" stroke-width="0.3">25'4&quot; x 18'8&quot;</text>
<text x="90.3" y="510.6" font-size="10.86" textLength="36.7" lengthAdjust="spacingAndGlyphs" fill="#111" font-family="Liberation Sans" stroke="#fff" stroke-width="0.1">Fireplace</text>
<text x="313.2" y="530.6" font-size="9.8" textLength="37.9" lengthAdjust="spacingAndGlyphs" fill="#111" font-family="Liberation Sans" stroke="#fff" stroke-width="0.1">Storage</text>
<text x="317.9" y="542.6" font-size="9.8" textLength="28.2" lengthAdjust="spacingAndGlyphs" fill="#111" font-family="Liberation Sans" stroke="#fff" stroke-width="0.1">Under</text>
<text x="318.6" y="554.6" font-size="9.8" textLength="27.5" lengthAdjust="spacingAndGlyphs" fill="#111" font-family="Liberation Sans" stroke="#fff" stroke-width="0.1">Stairs</text>
<text x="424" y="559.6" font-size="16.61" textLength="40.2" lengthAdjust="spacingAndGlyphs" fill="#111" font-family="Liberation Sans" stroke="#fff" stroke-width="0.3">Utility</text>
<text x="398" y="580" font-size="17.57" textLength="92" lengthAdjust="spacingAndGlyphs" fill="#111" font-family="Liberation Sans" stroke="#fff" stroke-width="0.3">22'5&quot; x 10'3&quot;</text>
<text x="326.6" y="665" font-size="16.51" textLength="20.6" lengthAdjust="spacingAndGlyphs" fill="#111" font-family="Liberation Sans" stroke="#fff" stroke-width="0.3">Up</text>
<text x="429.5" y="740" font-size="16.51" textLength="27.1" lengthAdjust="spacingAndGlyphs" fill="#111" font-family="Liberation Sans" stroke="#fff" stroke-width="0.3">Den</text>
<text x="406.8" y="759.6" font-size="17.04" textLength="71.5" lengthAdjust="spacingAndGlyphs" fill="#111" font-family="Liberation Sans" stroke="#fff" stroke-width="0.3">9'5&quot; x 9'5&quot;</text>
<text x="137" y="752.5" font-size="15.97" textLength="32.6" lengthAdjust="spacingAndGlyphs" fill="#111" font-family="Liberation Sans" stroke="#fff" stroke-width="0.3">3 pc</text>
<text x="393.8" y="854.5" font-size="17.04" textLength="75.4" lengthAdjust="spacingAndGlyphs" fill="#111" font-family="Liberation Sans" stroke="#fff" stroke-width="0.3">Cold Room</text>
<text x="388.8" y="873.7" font-size="17.57" textLength="92.2" lengthAdjust="spacingAndGlyphs" fill="#111" font-family="Liberation Sans" stroke="#fff" stroke-width="0.3">12'10&quot; x 4'0&quot;</text>
<text x="107.3" y="859.5" font-size="25" textLength="108.6" lengthAdjust="spacingAndGlyphs" fill="#111" font-family="Liberation Sans" stroke="#fff" stroke-width="0.5">Lower Level</text>
<text x="79.3" y="886" font-size="25" textLength="176.9" lengthAdjust="spacingAndGlyphs" fill="#111" font-family="Liberation Sans" stroke="#fff" stroke-width="0.5">1293 Square Feet</text>
<text x="49" y="912.8" font-size="25" textLength="251" lengthAdjust="spacingAndGlyphs" fill="#111" font-family="Liberation Sans" stroke="#fff" stroke-width="0.5">934 Finished Square Feet</text>
<text x="763" y="311" font-size="17.57" textLength="100" lengthAdjust="spacingAndGlyphs" fill="#111" font-family="Liberation Sans" stroke="#fff" stroke-width="0.3">Breakfast Area</text>
<text x="776" y="330" font-size="17.57" textLength="81" lengthAdjust="spacingAndGlyphs" fill="#111" font-family="Liberation Sans" stroke="#fff" stroke-width="0.3">12'3&quot; x 9'3&quot;</text>
<text x="761" y="419.5" font-size="17.04" textLength="50.2" lengthAdjust="spacingAndGlyphs" fill="#111" font-family="Liberation Sans" stroke="#fff" stroke-width="0.3">Kitchen</text>
<text x="768.5" y="438.2" font-size="17.04" textLength="36.7" lengthAdjust="spacingAndGlyphs" fill="#111" font-family="Liberation Sans" stroke="#fff" stroke-width="0.3">12'7&quot;</text>
<text x="765.5" y="457" font-size="17.04" textLength="40.5" lengthAdjust="spacingAndGlyphs" fill="#111" font-family="Liberation Sans" stroke="#fff" stroke-width="0.3">x 9'0&quot;</text>
<text x="600" y="474" font-size="17.57" textLength="84" lengthAdjust="spacingAndGlyphs" fill="#111" font-family="Liberation Sans" stroke="#fff" stroke-width="0.3">Family Room</text>
<text x="601" y="494" font-size="17.57" textLength="82" lengthAdjust="spacingAndGlyphs" fill="#111" font-family="Liberation Sans" stroke="#fff" stroke-width="0.3">21'1&quot; x 9'7&quot;</text>
<text x="573.8" y="513.6" font-size="10.86" textLength="37.2" lengthAdjust="spacingAndGlyphs" fill="#111" font-family="Liberation Sans" stroke="#fff" stroke-width="0.1">Fireplace</text>
<text x="751" y="543.6" font-size="15.97" textLength="16.7" lengthAdjust="spacingAndGlyphs" fill="#111" font-family="Liberation Sans" stroke="#fff" stroke-width="0.3">Dr</text>
<text x="888.3" y="449" font-size="17.57" textLength="85" lengthAdjust="spacingAndGlyphs" fill="#111" font-family="Liberation Sans" stroke="#fff" stroke-width="0.3">Dining Room</text>
<text x="887.5" y="470" font-size="17.57" textLength="91.5" lengthAdjust="spacingAndGlyphs" fill="#111" font-family="Liberation Sans" stroke="#fff" stroke-width="0.3">13'9&quot; x 10'2&quot;</text>
<text x="819" y="672.5" font-size="16.51" textLength="19.7" lengthAdjust="spacingAndGlyphs" fill="#111" font-family="Liberation Sans" stroke="#fff" stroke-width="0.3">Up</text>
<text x="888.3" y="676.5" font-size="17.57" textLength="80" lengthAdjust="spacingAndGlyphs" fill="#111" font-family="Liberation Sans" stroke="#fff" stroke-width="0.3">Living Room</text>
<text x="885.8" y="697.5" font-size="17.57" textLength="91.7" lengthAdjust="spacingAndGlyphs" fill="#111" font-family="Liberation Sans" stroke="#fff" stroke-width="0.3">18'5&quot; x 9'10&quot;</text>
<text x="605.6" y="708.5" font-size="16.51" textLength="32.4" lengthAdjust="spacingAndGlyphs" fill="#111" font-family="Liberation Sans" stroke="#fff" stroke-width="0.3">2 pc</text>
<text x="749" y="724" font-size="17.04" textLength="37.5" lengthAdjust="spacingAndGlyphs" fill="#111" font-family="Liberation Sans" stroke="#fff" stroke-width="0.3">Foyer</text>
<text x="715" y="745" font-size="17.57" textLength="112.8" lengthAdjust="spacingAndGlyphs" fill="#111" font-family="Liberation Sans" stroke="#fff" stroke-width="0.3">26'10&quot; x 11'10&quot;</text>
<text x="605" y="757" font-size="16.51" textLength="51.4" lengthAdjust="spacingAndGlyphs" fill="#111" font-family="Liberation Sans" stroke="#fff" stroke-width="0.3">Laundry</text>
<text x="596" y="776.6" font-size="17.57" textLength="70.5" lengthAdjust="spacingAndGlyphs" fill="#111" font-family="Liberation Sans" stroke="#fff" stroke-width="0.3">7'1&quot; x 6'3&quot;</text>
<text x="580.7" y="805" font-size="15.44" textLength="28.1" lengthAdjust="spacingAndGlyphs" fill="#111" font-family="Liberation Sans" stroke="#fff" stroke-width="0.3">W/D</text>
<text x="700.4" y="807.7" font-size="16.19" textLength="17.4" lengthAdjust="spacingAndGlyphs" fill="#111" font-family="Liberation Sans" stroke="#fff" stroke-width="0.3">CL</text>
<text x="644.7" y="869" font-size="15.97" textLength="19.9" lengthAdjust="spacingAndGlyphs" fill="#111" font-family="Liberation Sans" stroke="#fff" stroke-width="0.3">Up</text>
<text x="649" y="969" font-size="16.51" textLength="48" lengthAdjust="spacingAndGlyphs" fill="#111" font-family="Liberation Sans" stroke="#fff" stroke-width="0.3">Garage</text>
<text x="629" y="989.8" font-size="17.04" textLength="93.6" lengthAdjust="spacingAndGlyphs" fill="#111" font-family="Liberation Sans" stroke="#fff" stroke-width="0.3">19'7&quot; x 17'1&quot;</text>
<text x="895.2" y="867" font-size="25" textLength="98.2" lengthAdjust="spacingAndGlyphs" fill="#111" font-family="Liberation Sans" stroke="#fff" stroke-width="0.5">Main Floor</text>
<text x="859.4" y="894" font-size="25" textLength="178.8" lengthAdjust="spacingAndGlyphs" fill="#111" font-family="Liberation Sans" stroke="#fff" stroke-width="0.5">1247 Square Feet</text>
<text x="857.4" y="925.6" font-size="25" textLength="186.9" lengthAdjust="spacingAndGlyphs" fill="#111" font-family="Liberation Sans" stroke="#fff" stroke-width="0.5">2458 Above Grade</text>
<text x="1228" y="275.6" font-size="17.57" textLength="96" lengthAdjust="spacingAndGlyphs" fill="#111" font-family="Liberation Sans" stroke="#fff" stroke-width="0.3">Sitting Room</text>
<text x="1238" y="298" font-size="17.57" textLength="82" lengthAdjust="spacingAndGlyphs" fill="#111" font-family="Liberation Sans" stroke="#fff" stroke-width="0.3">12'3&quot; x 8'5&quot;</text>
<text x="1265" y="419" font-size="17.57" textLength="116" lengthAdjust="spacingAndGlyphs" fill="#111" font-family="Liberation Sans" stroke="#fff" stroke-width="0.3">Primary Bedroom</text>
<text x="1277" y="439.2" font-size="17.57" textLength="95.8" lengthAdjust="spacingAndGlyphs" fill="#111" font-family="Liberation Sans" stroke="#fff" stroke-width="0.3">19'7&quot; x 11'6&quot;</text>
<text x="1051" y="451" font-size="17.57" textLength="120" lengthAdjust="spacingAndGlyphs" fill="#111" font-family="Liberation Sans" stroke="#fff" stroke-width="0.3">Second Bedroom</text>
<text x="1069" y="471" font-size="17.57" textLength="95" lengthAdjust="spacingAndGlyphs" fill="#111" font-family="Liberation Sans" stroke="#fff" stroke-width="0.3">15'8&quot; x 9'10&quot;</text>
<text x="1217" y="546" font-size="15.97" textLength="18.3" lengthAdjust="spacingAndGlyphs" fill="#111" font-family="Liberation Sans" stroke="#fff" stroke-width="0.3">Dn</text>
<text x="1067.6" y="596.4" font-size="16.19" textLength="17.4" lengthAdjust="spacingAndGlyphs" fill="#111" font-family="Liberation Sans" stroke="#fff" stroke-width="0.3">CL</text>
<text x="1139.6" y="593.7" font-size="16.19" textLength="16.9" lengthAdjust="spacingAndGlyphs" fill="#111" font-family="Liberation Sans" stroke="#fff" stroke-width="0.3">CL</text>
<text x="1337.7" y="575.3" font-size="13.31" textLength="37.6" lengthAdjust="spacingAndGlyphs" fill="#111" font-family="Liberation Sans" stroke="#fff" stroke-width="0.1">Walk In</text>
<text x="1338.5" y="592.7" font-size="13.31" textLength="36.5" lengthAdjust="spacingAndGlyphs" fill="#111" font-family="Liberation Sans" stroke="#fff" stroke-width="0.1">Closet</text>
<text x="1405" y="572" font-size="16.51" textLength="32.5" lengthAdjust="spacingAndGlyphs" fill="#111" font-family="Liberation Sans" stroke="#fff" stroke-width="0.3">3 pc</text>
<text x="1351.4" y="651.4" font-size="16.19" textLength="17.4" lengthAdjust="spacingAndGlyphs" fill="#111" font-family="Liberation Sans" stroke="#fff" stroke-width="0.3">CL</text>
<text x="1061" y="718" font-size="17.57" textLength="100" lengthAdjust="spacingAndGlyphs" fill="#111" font-family="Liberation Sans" stroke="#fff" stroke-width="0.3">Third Bedroom</text>
<text x="1065" y="737" font-size="17.57" textLength="93" lengthAdjust="spacingAndGlyphs" fill="#111" font-family="Liberation Sans" stroke="#fff" stroke-width="0.3">14'3&quot; x 9'10&quot;</text>
<text x="1198" y="731" font-size="16.19" textLength="17" lengthAdjust="spacingAndGlyphs" fill="#111" font-family="Liberation Sans" stroke="#fff" stroke-width="0.3">CL</text>
<text x="1241" y="778.5" font-size="16.51" textLength="33" lengthAdjust="spacingAndGlyphs" fill="#111" font-family="Liberation Sans" stroke="#fff" stroke-width="0.3">4 pc</text>
<text x="1341.9" y="744" font-size="17.57" textLength="111.5" lengthAdjust="spacingAndGlyphs" fill="#111" font-family="Liberation Sans" stroke="#fff" stroke-width="0.3">Fourth Bedroom</text>
<text x="1353.8" y="762.4" font-size="17.57" textLength="93.2" lengthAdjust="spacingAndGlyphs" fill="#111" font-family="Liberation Sans" stroke="#fff" stroke-width="0.3">10'4&quot; x 10'2&quot;</text>
<text x="1186.6" y="861" font-size="25" textLength="128.2" lengthAdjust="spacingAndGlyphs" fill="#111" font-family="Liberation Sans" stroke="#fff" stroke-width="0.5">Second Floor</text>
<text x="1166.5" y="886" font-size="25" textLength="177.5" lengthAdjust="spacingAndGlyphs" fill="#111" font-family="Liberation Sans" stroke="#fff" stroke-width="0.5">1211 Square Feet</text>
<rect x="466" y="1134.5" width="621.5" height="24.5" fill="#e2e2e2"/>
<text x="467" y="1153.6" font-size="24" textLength="66" lengthAdjust="spacingAndGlyphs" fill="#fff" font-family="Liberation Sans" style="paint-order:stroke" stroke="#cfcfcf" stroke-width="1.4">Royal</text>
<text x="544" y="1153.6" font-size="24" textLength="92" lengthAdjust="spacingAndGlyphs" fill="#fff" font-family="Liberation Sans" style="paint-order:stroke" stroke="#cfcfcf" stroke-width="1.4">Lepage</text>
<text x="646.5" y="1153.6" font-size="24" textLength="52.5" lengthAdjust="spacingAndGlyphs" fill="#fff" font-family="Liberation Sans" style="paint-order:stroke" stroke="#cfcfcf" stroke-width="1.4">Real</text>
<text x="710" y="1153.6" font-size="24" textLength="82" lengthAdjust="spacingAndGlyphs" fill="#fff" font-family="Liberation Sans" style="paint-order:stroke" stroke="#cfcfcf" stroke-width="1.4">Estate</text>
<text x="802" y="1153.6" font-size="24" textLength="147" lengthAdjust="spacingAndGlyphs" fill="#fff" font-family="Liberation Sans" style="paint-order:stroke" stroke="#cfcfcf" stroke-width="1.4">Associates,</text>
<text x="958" y="1153.6" font-size="24" textLength="129" lengthAdjust="spacingAndGlyphs" fill="#fff" font-family="Liberation Sans" style="paint-order:stroke" stroke="#cfcfcf" stroke-width="1.4">Brokerage</text>
</svg>
</body></html>
